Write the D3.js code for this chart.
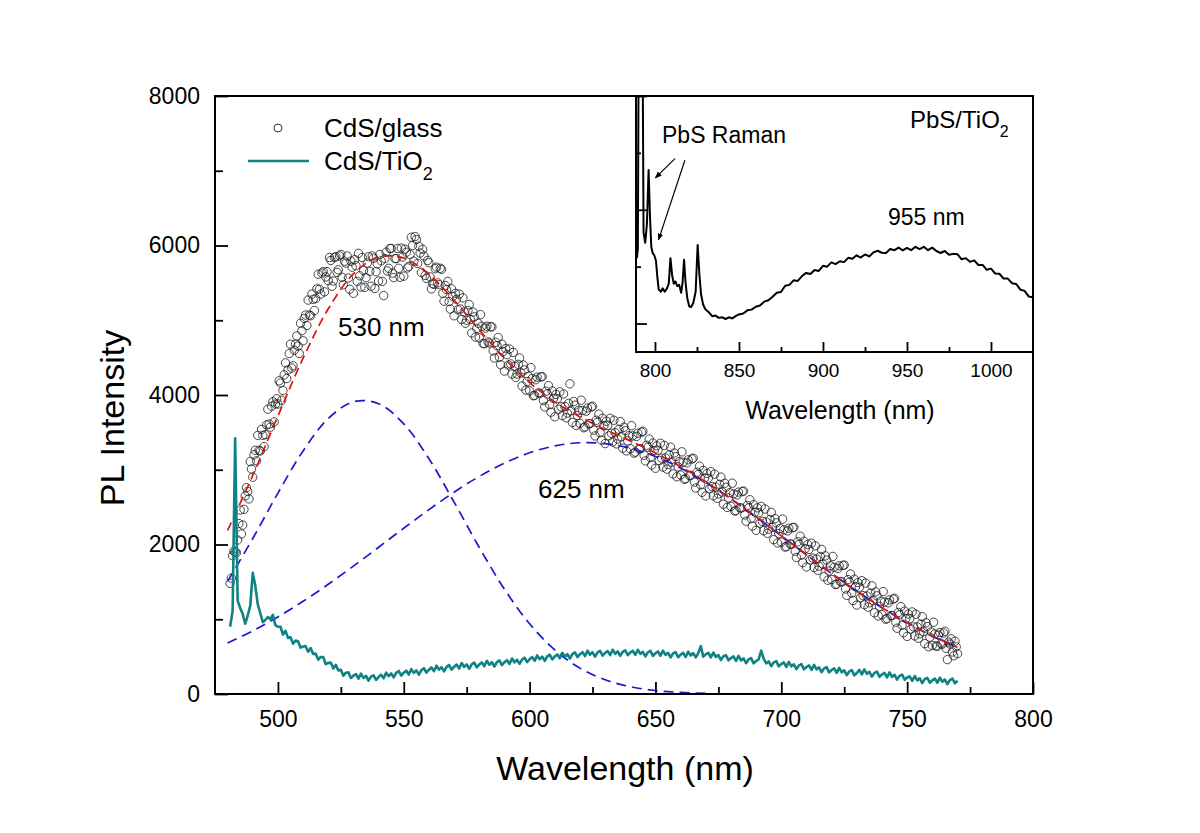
<!DOCTYPE html>
<html>
<head>
<meta charset="utf-8">
<script src="https://cdn.jsdelivr.net/npm/d3@7"></script>
<style>
  body { margin: 0; background: #fff; }
  svg text { font-family: Arial, "Liberation Sans", sans-serif; fill: #000; }
</style>
</head>
<body>
<svg id="chart" width="1200" height="833"></svg>
<script>
// ---- data ----
// CdS/glass PL, open circles: one point per nm from 481 nm, plus a second pass at the half-nm
const glassStart = 481
const glassValues = [
  1480, 1850, 1900, 2060, 2460, 2260, 2650, 2710, 3110, 2900,
  3260, 3460, 3250, 3460, 3470, 3810, 3570, 3910, 3880, 3880,
  4160, 4060, 4430, 4335, 4680, 4390, 4680, 4655, 4960, 4725,
  5070, 5270, 5060, 5280, 5290, 5615, 5350, 5650, 5580, 5530,
  5800, 5525, 5850, 5675, 5880, 5475, 5765, 5565, 5790, 5360,
  5730, 5895, 5445, 5665, 5570, 5850, 5455, 5830, 5650, 5525,
  5795, 5330, 5910, 5695, 5960, 5570, 5825, 5695, 5965, 5590,
  5910, 5720, 6110, 5790, 6080, 5990, 5640, 5860, 5560, 5770,
  5420, 5480, 5710, 5475, 5680, 5255, 5410, 5250, 5420, 5060,
  5280, 5350, 5010, 5110, 5000, 5210, 4830, 5045, 4890, 4765,
  4920, 4685, 4920, 4695, 4910, 4495, 4660, 4505, 4680, 4320,
  4540, 4615, 4280, 4385, 4280, 4495, 4120, 4335, 4180, 4056,
  4220, 3994, 4238, 4022, 4246, 3840, 4015, 3870, 4054, 3708,
  3950, 4042, 3724, 3846, 3758, 4150, 3632, 3864, 3726, 3620,
  3792, 3574, 3826, 3618, 3850, 3452, 3634, 3496, 3688, 3350,
  3594, 3688, 3372, 3496, 3410, 3644, 3288, 3522, 3386, 3280,
  3453, 3236, 3489, 3282, 3515, 3118, 3301, 3164, 3357, 3020,
  3262, 3354, 3036, 3158, 3070, 3302, 2944, 3176, 3038, 2930,
  3101, 2882, 3133, 2924, 3155, 2756, 2937, 2798, 2989, 2650,
  2887, 2974, 2651, 2768, 2675, 2902, 2539, 2766, 2623, 2510,
  2677, 2454, 2701, 2488, 2715, 2312, 2489, 2346, 2533, 2190,
  2425, 2510, 2185, 2300, 2205, 2430, 2065, 2290, 2145, 2030,
  2196, 1972, 2218, 2004, 2230, 1826, 2002, 1858, 2044, 1700,
  1934, 2018, 1692, 1806, 1710, 1934, 1568, 1792, 1646, 1530,
  1695, 1470, 1715, 1500, 1725, 1320, 1495, 1350, 1535, 1190,
  1428, 1516, 1194, 1312, 1220, 1448, 1086, 1314, 1172, 1060,
  1230, 1010, 1260, 1050, 1280, 880, 1060, 920, 1110, 770,
  1009, 1098, 777, 896, 805, 1034, 673, 902, 761, 650,
  804, 638, 822, 666, 840, 460, 668, 562, 706, 540
]
const glassStartB = 481.5
const glassValuesB = [
  1550, 1910, 1890, 2280, 2140, 2470, 2760, 2610, 3010, 3200,
  3120, 3260, 3540, 3310, 3600, 3610, 3850, 3640, 3950, 4190,
  3930, 4270, 4220, 4555, 4360, 4600, 4790, 4555, 4860, 5025,
  4930, 5070, 5350, 5130, 5420, 5415, 5630, 5380, 5650, 5840,
  5455, 5840, 5640, 5860, 5575, 5790, 5860, 5415, 5710, 5810,
  5520, 5595, 5840, 5440, 5765, 5655, 5860, 5425, 5755, 5880,
  5520, 5825, 5660, 5960, 5630, 5825, 5960, 5575, 5845, 5950,
  5700, 5880, 6000, 6120, 5760, 5900, 5950, 5600, 5800, 5580,
  5490, 5690, 5500, 5695, 5360, 5465, 5520, 5150, 5320, 5360,
  5140, 5150, 5300, 4960, 5130, 5010, 5110, 4775, 4960, 5075,
  4690, 4895, 4710, 4915, 4590, 4705, 4770, 4405, 4580, 4620,
  4400, 4415, 4570, 4235, 4410, 4295, 4400, 4065, 4250, 4366,
  3990, 4204, 4028, 4242, 3926, 4050, 4125, 3770, 3954, 4008,
  3810, 3842, 4014, 3696, 3888, 3790, 3912, 3594, 3796, 3930,
  3562, 3784, 3616, 3838, 3530, 3662, 3744, 3396, 3588, 3650,
  3454, 3488, 3662, 3346, 3540, 3444, 3568, 3252, 3456, 3590,
  3223, 3446, 3279, 3502, 3195, 3328, 3411, 3064, 3257, 3320,
  3122, 3154, 3326, 3008, 3200, 3102, 3224, 2906, 3108, 3240,
  2871, 3092, 2923, 3144, 2835, 2966, 3047, 2698, 2889, 2950,
  2747, 2774, 2941, 2618, 2805, 2702, 2819, 2496, 2693, 2820,
  2447, 2664, 2491, 2708, 2395, 2522, 2599, 2246, 2433, 2490,
  2285, 2310, 2475, 2150, 2335, 2230, 2345, 2020, 2215, 2340,
  1966, 2182, 2008, 2224, 1910, 2036, 2112, 1758, 1944, 2000,
  1794, 1818, 1982, 1656, 1840, 1734, 1848, 1522, 1716, 1840,
  1465, 1680, 1505, 1720, 1405, 1530, 1605, 1250, 1435, 1490,
  1288, 1316, 1484, 1162, 1350, 1248, 1366, 1044, 1242, 1370,
  1000, 1220, 1050, 1270, 960, 1090, 1170, 820, 1010, 1070,
  869, 898, 1067, 746, 935, 834, 953, 632, 831, 960,
  644, 788, 672, 816, 610, 694, 738, 512, 631
]

// CdS/TiO2 PL, teal line, one point per nm starting at 481 nm
const tioStart = 481
const tioValues = [
  900, 1110, 3420, 1250, 1150, 1070, 940, 1050, 1180, 1620,
  1450, 1200, 1080, 960, 990, 1030, 1000, 1060, 920, 900,
  900, 795, 845, 750, 760, 675, 715, 705, 620, 635,
  640, 565, 615, 535, 540, 460, 495, 495, 400, 415,
  420, 340, 390, 315, 325, 245, 285, 290, 215, 245,
  265, 205, 273, 215, 242, 180, 233, 250, 188, 227,
  258, 210, 285, 238, 275, 222, 283, 308, 247, 285,
  312, 260, 333, 282, 316, 260, 320, 345, 285, 325,
  355, 305, 379, 327, 360, 304, 363, 387, 326, 365,
  393, 341, 414, 362, 395, 338, 396, 419, 357, 395,
  423, 371, 444, 392, 425, 368, 426, 449, 387, 425,
  453, 401, 475, 424, 458, 402, 461, 485, 425, 465,
  494, 443, 517, 466, 500, 444, 503, 526, 464, 502,
  530, 478, 551, 499, 532, 475, 533, 556, 494, 532,
  560, 507, 579, 526, 558, 500, 556, 577, 513, 549,
  575, 521, 592, 538, 569, 510, 565, 585, 520, 555,
  579, 523, 592, 536, 565, 504, 558, 577, 511, 545,
  569, 512, 580, 523, 551, 489, 542, 560, 492, 525,
  550, 495, 567, 515, 548, 490, 547, 640, 500, 530,
  550, 490, 555, 495, 520, 455, 505, 520, 450, 481,
  502, 443, 509, 450, 476, 412, 463, 479, 410, 441,
  462, 580, 469, 410, 436, 372, 423, 439, 370, 401,
  422, 363, 429, 370, 396, 332, 383, 399, 330, 361,
  382, 323, 389, 330, 356, 292, 343, 359, 290, 321,
  342, 283, 349, 290, 316, 252, 303, 319, 250, 281,
  322, 263, 329, 270, 296, 232, 283, 299, 230, 261,
  282, 223, 289, 230, 256, 192, 243, 259, 190, 221,
  235, 175, 241, 182, 209, 146, 199, 217, 150, 183,
  207, 151, 220, 164, 193, 132, 187, 207, 142, 177
]

// fitted curves (dashed), read every 10 nm
const fitWave = [480, 490, 500, 510, 520, 530, 540, 550, 560, 570, 580, 590, 600, 610, 620,
                 630, 640, 650, 660, 670, 680, 690, 700, 710, 720, 730, 740, 750, 760, 770]
const fitTotal = [2188, 2924, 3719, 4492, 5153, 5620, 5847, 5831, 5613, 5267, 4871, 4491, 4166, 3908, 3707,
                  3540, 3386, 3224, 3043, 2839, 2612, 2369, 2116, 1862, 1613, 1375, 1154, 954, 776, 622]
const peak625 = [681, 844, 1031, 1240, 1468, 1711, 1963, 2218, 2466, 2700, 2911, 3089, 3227, 3319, 3361,
                 3350, 3288, 3177, 3022, 2830, 2609, 2368, 2116, 1862, 1613, 1375, 1154, 954, 776, 622]
const peak530Wave = [480, 490, 500, 510, 520, 530, 540, 550, 560, 570, 580, 590, 600, 610, 620, 630, 640, 650, 660, 670]
const peak530 = [1507, 2080, 2688, 3252, 3685, 3909, 3884, 3613, 3147, 2567, 1960, 1402, 939, 589, 346, 190, 98, 47, 21, 9]

// inset: PbS/TiO2 spectrum
const insetWave = [
  789.2, 789.8, 790.3, 792.6, 793.2, 794.2, 795.2, 796.2, 797.0, 797.8, 798.6, 799.6, 800.6, 801.4, 802.2,
  803.4, 804.6, 805.8, 807, 808.2, 809.2, 810.2, 811.2, 812.2, 813.2, 814.4, 815.6, 816.4, 817.3, 818.2,
  819.2, 820.4, 821.5, 822.8, 824.2, 825.4, 826.4, 827.4, 828.6, 830, 832, 834, 836, 838, 840, 842, 844,
  846, 848, 850, 852.5, 855, 857.5, 860, 862.5, 865, 867.5, 870, 872.5, 875, 877.5, 880, 882.5, 885, 887.5,
  890, 892.5, 895, 897.5, 900, 902.5, 905, 907.5, 910, 912.5, 915, 917.5, 920, 922.5, 925, 927.5, 930,
  932.5, 935, 937.5, 940, 942.5, 945, 947.5, 950, 952.5, 955, 957.5, 960, 962.5, 965, 967.5, 970, 972.5,
  975, 977.5, 980, 982.5, 985, 987.5, 990, 992.5, 995, 997.5, 1000, 1002.5, 1005, 1007.5, 1010, 1012.5,
  1015, 1017.5, 1020, 1022.5, 1025
]
const insetCounts = [
  1150, 1300, 5000, 5000, 1600, 1420, 1750, 2700, 1900, 1350, 1240, 1200, 1100, 820, 600,
  560, 620, 560, 610, 700, 1150, 850, 700, 740, 660, 680, 540, 720, 1120, 720,
  450, 300, 290, 360, 560, 1380, 880, 520, 340, 250, 200, 130, 140, 100, 110, 80, 110,
  90, 130, 160, 177, 232, 245, 296, 318, 385, 409, 472, 540, 555, 665, 680, 760, 750, 835,
  890, 870, 940, 925, 1015, 1000, 1075, 1045, 1095, 1080, 1155, 1140, 1200, 1160, 1215, 1180, 1250,
  1280, 1245, 1242, 1310, 1290, 1335, 1287, 1330, 1290, 1350, 1310, 1350, 1290, 1335, 1275, 1240, 1275,
  1210, 1225, 1220, 1130, 1150, 1085, 1110, 1030, 1030, 945, 965, 880, 875, 790, 790, 710,
  695, 595, 575, 475, 460
]

// tick values
const xMajor = [500, 550, 600, 650, 700, 750, 800]
const xMinor = [525, 575, 625, 675, 725, 775]
const yMajor = [0, 2000, 4000, 6000, 8000]
const yMinor = [1000, 3000, 5000, 7000]
const insetXMajor = [800, 850, 900, 950, 1000]
const insetXMinor = [825, 875, 925, 975]
const insetYMajor = [0, 2000, 4000]
const insetYMinor = [1000, 3000]

const teal = '#0f8282'
const fitRed = '#e01010'
const fitBlue = '#1a1acc'

const svg = d3.select('#chart')

// ---- main plot ----
const x = d3.scaleLinear().domain([475, 800]).range([215, 1033])
const y = d3.scaleLinear().domain([0, 8000]).range([694, 96])

svg.append('defs').append('clipPath').attr('id', 'mainClip')
  .append('rect').attr('x', 215).attr('y', 96).attr('width', 818).attr('height', 598)

function styleAxis(g, size) {
  g.select('.domain').remove()
  g.selectAll('line').attr('stroke', '#000').attr('stroke-width', 1.8)
  g.selectAll('text').attr('font-size', size).attr('font-family', 'Arial, "Liberation Sans", sans-serif').attr('fill', '#000')
}

svg.append('g').attr('transform', 'translate(0,694)')
  .call(d3.axisBottom(x).tickValues(xMajor).tickSize(-12).tickPadding(17).tickFormat(d3.format('d')))
  .call(g => styleAxis(g, 23))
svg.append('g').attr('transform', 'translate(0,694)')
  .call(d3.axisBottom(x).tickValues(xMinor).tickSize(-7).tickFormat(''))
  .call(g => styleAxis(g, 23))
svg.append('g').attr('transform', 'translate(215,0)')
  .call(d3.axisLeft(y).tickValues(yMajor).tickSize(-13).tickPadding(15).tickFormat(d3.format('d')))
  .call(g => styleAxis(g, 23))
svg.append('g').attr('transform', 'translate(215,0)')
  .call(d3.axisLeft(y).tickValues(yMinor).tickSize(-8).tickFormat(''))
  .call(g => styleAxis(g, 23))

const plot = svg.append('g').attr('clip-path', 'url(#mainClip)')

// open circles
const glassPts = glassValues.map((v, i) => [glassStart + i, v])
  .concat(glassValuesB.map((v, i) => [glassStartB + i, v]))
plot.append('g').selectAll('circle')
  .data(glassPts)
  .join('circle')
  .attr('cx', d => x(d[0]))
  .attr('cy', d => y(d[1]))
  .attr('r', 4.2)
  .attr('fill', 'none')
  .attr('stroke', '#1a1a1a')
  .attr('stroke-width', 0.8)

// dashed fits
const fitLine = d3.line().curve(d3.curveCatmullRom)
plot.append('path')
  .attr('d', fitLine(peak530Wave.map((w, i) => [x(w), y(peak530[i])])))
  .attr('fill', 'none').attr('stroke', fitBlue).attr('stroke-width', 1.7).attr('stroke-dasharray', '10,6')
plot.append('path')
  .attr('d', fitLine(fitWave.map((w, i) => [x(w), y(peak625[i])])))
  .attr('fill', 'none').attr('stroke', fitBlue).attr('stroke-width', 1.7).attr('stroke-dasharray', '10,6')
plot.append('path')
  .attr('d', fitLine(fitWave.map((w, i) => [x(w), y(fitTotal[i])])))
  .attr('fill', 'none').attr('stroke', fitRed).attr('stroke-width', 1.7).attr('stroke-dasharray', '9,5')

// CdS/TiO2 line
plot.append('path')
  .attr('d', d3.line()(tioValues.map((v, i) => [x(tioStart + i), y(v)])))
  .attr('fill', 'none').attr('stroke', teal).attr('stroke-width', 2.6).attr('stroke-linejoin', 'round')

// frame
svg.append('rect').attr('x', 215).attr('y', 96).attr('width', 818).attr('height', 598)
  .attr('fill', 'none').attr('stroke', '#000').attr('stroke-width', 2)

// legend
svg.append('circle').attr('cx', 278).attr('cy', 128).attr('r', 4)
  .attr('fill', 'none').attr('stroke', '#222').attr('stroke-width', 0.9)
svg.append('text').attr('x', 324).attr('y', 137).attr('font-size', 26).text('CdS/glass')
svg.append('line').attr('x1', 248).attr('x2', 309).attr('y1', 161).attr('y2', 161)
  .attr('stroke', teal).attr('stroke-width', 2.6)
const legTi = svg.append('text').attr('x', 324).attr('y', 170).attr('font-size', 26)
legTi.append('tspan').text('CdS/TiO')
legTi.append('tspan').attr('font-size', 18).attr('dy', 10).text('2')

// peak labels
svg.append('text').attr('x', 338).attr('y', 336).attr('font-size', 26).text('530 nm')
svg.append('text').attr('x', 538).attr('y', 498).attr('font-size', 26).text('625 nm')

// axis titles
svg.append('text').attr('x', 625).attr('y', 780).attr('text-anchor', 'middle')
  .attr('font-size', 34).text('Wavelength (nm)')
svg.append('text').attr('transform', 'translate(124,418) rotate(-90)').attr('text-anchor', 'middle')
  .attr('font-size', 34).text('PL Intensity')

// ---- inset ----
const ix = d3.scaleLinear().domain([788.7, 1025]).range([636, 1033])
const iy = d3.scaleLinear().domain([-500, 4000]).range([352, 96])

svg.select('defs').append('clipPath').attr('id', 'insetClip')
  .append('rect').attr('x', 636).attr('y', 96).attr('width', 397).attr('height', 256)
svg.select('defs').append('marker').attr('id', 'arrowHead')
  .attr('viewBox', '0 0 10 10').attr('refX', 9).attr('refY', 5)
  .attr('markerWidth', 7).attr('markerHeight', 7).attr('markerUnits', 'userSpaceOnUse')
  .attr('orient', 'auto')
  .append('path').attr('d', 'M0,1 L10,5 L0,9 Z').attr('fill', '#000')

svg.append('rect').attr('x', 636).attr('y', 96).attr('width', 397).attr('height', 256).attr('fill', '#fff')

svg.append('g').attr('transform', 'translate(0,352)')
  .call(d3.axisBottom(ix).tickValues(insetXMajor).tickSize(-10).tickPadding(12).tickFormat(d3.format('d')))
  .call(g => styleAxis(g, 19))
svg.append('g').attr('transform', 'translate(0,352)')
  .call(d3.axisBottom(ix).tickValues(insetXMinor).tickSize(-5).tickFormat(''))
  .call(g => styleAxis(g, 19))
svg.append('g').attr('transform', 'translate(636,0)')
  .call(d3.axisLeft(iy).tickValues(insetYMajor).tickSize(-11).tickFormat(''))
  .call(g => styleAxis(g, 19))
svg.append('g').attr('transform', 'translate(636,0)')
  .call(d3.axisLeft(iy).tickValues(insetYMinor).tickSize(-5).tickFormat(''))
  .call(g => styleAxis(g, 19))

svg.append('g').attr('clip-path', 'url(#insetClip)')
  .append('path')
  .attr('d', d3.line()(insetWave.map((w, i) => [ix(w), iy(insetCounts[i])])))
  .attr('fill', 'none').attr('stroke', '#000').attr('stroke-width', 2).attr('stroke-linejoin', 'round')

svg.append('rect').attr('x', 636).attr('y', 96).attr('width', 397).attr('height', 256)
  .attr('fill', 'none').attr('stroke', '#000').attr('stroke-width', 2)

// Raman arrows, in inset data units
const arrows = [
  { from: [811.9, 2900], to: [800.2, 2560] },
  { from: [817.8, 2870], to: [802.1, 1470] }
]
svg.append('g').selectAll('line').data(arrows).join('line')
  .attr('x1', d => ix(d.from[0])).attr('y1', d => iy(d.from[1]))
  .attr('x2', d => ix(d.to[0])).attr('y2', d => iy(d.to[1]))
  .attr('stroke', '#000').attr('stroke-width', 1.2).attr('marker-end', 'url(#arrowHead)')

svg.append('text').attr('x', 662).attr('y', 143).attr('font-size', 23).text('PbS Raman')
const insTitle = svg.append('text').attr('x', 910).attr('y', 128).attr('font-size', 24)
insTitle.append('tspan').text('PbS/TiO')
insTitle.append('tspan').attr('font-size', 16).attr('dy', 9).text('2')
svg.append('text').attr('x', 888).attr('y', 225).attr('font-size', 23).text('955 nm')
svg.append('text').attr('x', 840).attr('y', 419).attr('text-anchor', 'middle')
  .attr('font-size', 25).text('Wavelength (nm)')
</script>
</body>
</html>
